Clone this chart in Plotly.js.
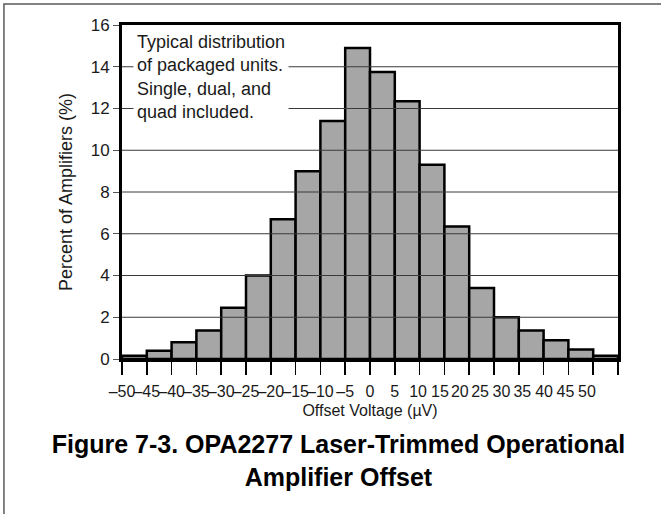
<!DOCTYPE html>
<html>
<head>
<meta charset="utf-8">
<script src="https://cdn.plot.ly/plotly-3.0.1.min.js"></script>
<style>html,body{margin:0;padding:0;background:#fff;}</style>
</head>
<body>
<div id="chart" style="width:661px;height:514px;"></div>
<script>
// Histogram bins (lower edge, µV) and share of amplifiers (%)
const binStart = [-50,-45,-40,-35,-30,-25,-20,-15,-10,-5,0,5,10,15,20,25,30,35,40,45];
const percent  = [0.15,0.4,0.8,1.36,2.46,4.0,6.7,9.0,11.4,14.9,13.75,12.35,9.3,6.35,3.4,2.0,1.37,0.9,0.45,0.15];
const binWidth = 5;

// x tick marks (bin edges) and their labels
const tickEdges  = [-50,-45,-40,-35,-30,-25,-20,-15,-10,-5,0,5,10,15,20,25,30,35,40,45,50];
const tickLabels = ['–50','–45','–40','–35','–30','–25','–20','–15','–10','–5','0','5','10','15','20','25','30','35','40','45','50'];
// where the reference prints each label along the axis (it drifts left on the positive side)
const labelPos   = [-50,-45,-40,-35,-30,-25,-20,-15,-10,-5,0,5,9.7,14.1,18.1,22.2,26.5,30.7,35.1,39.4,43.75];

// y ticks
const yTicks = [0,2,4,6,8,10,12,14,16];
const yGrid  = [2,4,6,8,10,12,14];

const noteText = 'Typical distribution<br>of packaged units.<br>Single, dual, and<br>quad included.';
const titleText = 'Figure 7-3. OPA2277 Laser-Trimmed Operational<br>Amplifier Offset';

const FONT = 'Liberation Sans, Arial, Helvetica, sans-serif';
const NARROW = 'Liberation Sans Narrow, Arial Narrow, Liberation Sans, Arial, sans-serif';

const trace = {
  type: 'bar',
  x: binStart,
  y: percent,
  width: binStart.map(() => binWidth),
  offset: 0,
  marker: {color: '#a6a6a6', line: {color: '#000000', width: 2.5}},
  hoverinfo: 'x+y',
  showlegend: false
};

const gridShapes = yGrid.map(v => ({
  type: 'line', xref: 'paper', yref: 'y', x0: 0, x1: 1, y0: v, y1: v,
  line: {color: '#3a3a3a', width: 1}, layer: 'above'
}));

const layout = {
  width: 661, height: 514,
  margin: {l: 122, r: 43, t: 25, b: 155},
  paper_bgcolor: '#ffffff',
  plot_bgcolor: '#ffffff',
  font: {family: FONT, color: '#1a1a1a'},
  bargap: 0,
  title: {
    text: titleText,
    font: {family: FONT, size: 25, color: '#000000', weight: 'bold'},
    x: 0.512, xanchor: 'center', xref: 'container',
    y: 0.118, yanchor: 'top', yref: 'container'
  },
  xaxis: {
    range: [-50, 50],
    tickmode: 'array', tickvals: tickEdges, ticktext: tickEdges.map(() => ''),
    ticks: 'outside', ticklen: 13, tickwidth: 1.5, tickcolor: '#000000',
    showline: true, mirror: true, linewidth: 3, linecolor: '#000000',
    showgrid: false, zeroline: false, fixedrange: true
  },
  xaxis2: {
    overlaying: 'x', anchor: 'y', side: 'bottom',
    range: [-50, 50],
    tickmode: 'array', tickvals: labelPos, ticktext: tickLabels, tickangle: 0,
    ticks: 'outside', ticklen: 18, tickcolor: 'rgba(0,0,0,0)',
    tickfont: {family: NARROW, size: 16, color: '#1a1a1a'},
    showline: false, showgrid: false, zeroline: false,
    title: {text: 'Offset Voltage (µV)', font: {family: FONT, size: 16, color: '#1a1a1a'}, standoff: 5}
  },
  yaxis: {
    range: [0, 16],
    tickmode: 'array', tickvals: yTicks,
    ticks: 'outside', ticklen: 6, tickwidth: 1, tickcolor: '#555555',
    tickfont: {family: FONT, size: 17, color: '#1a1a1a'},
    showline: true, mirror: true, linewidth: 3, linecolor: '#000000',
    showgrid: false, zeroline: false,
    title: {text: 'Percent of Amplifiers (%)', font: {family: FONT, size: 18, color: '#1a1a1a'}, standoff: 14}
  },
  shapes: gridShapes.concat([{
    type: 'rect', xref: 'paper', yref: 'paper',
    x0: -0.238, x1: 1.2, y0: -0.7, y1: 1.063,
    line: {color: '#5a5a5a', width: 1.5}, fillcolor: 'rgba(0,0,0,0)', layer: 'above'
  }]),
  annotations: [{
    text: noteText, xref: 'paper', yref: 'paper',
    x: 0.022, y: 0.99, xanchor: 'left', yanchor: 'top', align: 'left',
    showarrow: false, bgcolor: '#ffffff', borderpad: 3,
    font: {family: FONT, size: 18, color: '#1a1a1a'}
  }]
};

Plotly.newPlot('chart', [trace, {type: 'scatter', x: [], y: [], xaxis: 'x2', yaxis: 'y', showlegend: false, hoverinfo: 'skip'}], layout, {displayModeBar: false, staticPlot: true});
</script>
</body>
</html>
